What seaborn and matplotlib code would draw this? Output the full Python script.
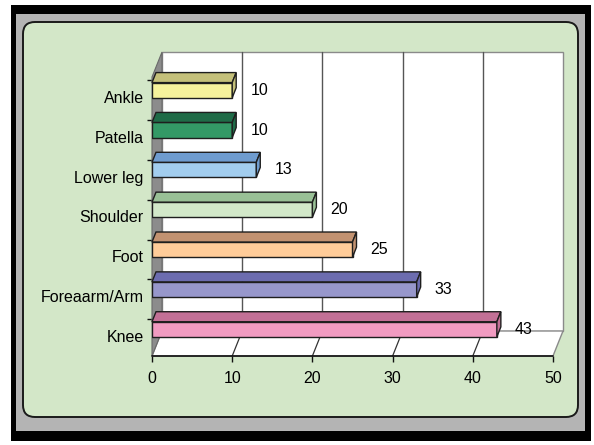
import numpy as np
import pandas as pd
import matplotlib
matplotlib.use("Agg")
import matplotlib.pyplot as plt
from matplotlib.patches import Polygon, Rectangle, FancyBboxPatch
import seaborn as sns

# Injury sites and counts
categories = ["Ankle", "Patella", "Lower leg", "Shoulder", "Foot", "Foreaarm/Arm", "Knee"]
counts = [10, 10, 13, 20, 25, 33, 43]
x_ticks = [0, 10, 20, 30, 40, 50]

front_colors = ["#F6F29C", "#339966", "#A2CDEE", "#D2E8C9", "#FFCC99", "#9797CB", "#F19BC1"]
top_colors = ["#C4C07A", "#1F6B47", "#6F9CCF", "#99C096", "#C29271", "#6C6CAF", "#C27096"]

sns.set_theme(style="white")
plt.rcParams["font.family"] = ["Liberation Sans", "DejaVu Sans"]
plt.rcParams["hatch.linewidth"] = 1.0

W, H, DPI = 594, 445, 100
fig = plt.figure(figsize=(W / DPI, H / DPI), dpi=DPI, facecolor="white")

# Decorative frame drawn in pixel coordinates
bg = fig.add_axes([0, 0, 1, 1], zorder=0)
bg.set_xlim(0, W)
bg.set_ylim(H, 0)
bg.axis("off")
bg.add_patch(Rectangle((11, 5), 580, 436, facecolor="black", edgecolor="none"))
bg.add_patch(Rectangle((16, 14), 569, 417, facecolor="#b4b4b4", edgecolor="none"))
bg.add_patch(FancyBboxPatch((23, 22), 555, 395, boxstyle="round,pad=0,rounding_size=12",
                            facecolor="#D3E7C8", edgecolor="#1a1a1a", linewidth=1.4))

# Plot area (front plane of the 3-D box)
L, R, T, B = 152, 553, 77, 356
ax = fig.add_axes([L / W, 1 - B / H, (R - L) / W, (B - T) / H], zorder=2)
ax.set_facecolor("none")

df = pd.DataFrame({"site": categories, "count": counts})
bar_w = 0.38
sns.barplot(data=df, y="site", x="count", hue="site", order=categories,
            palette=front_colors, saturation=1, width=bar_w, edgecolor="#1e1e1e",
            linewidth=1.0, legend=False, ax=ax, zorder=5)

shift = 0.17
ax.set_xlim(0, 50)
ax.set_ylim(6.5 + shift, -0.5 + shift)
y_lo, y_hi = ax.get_ylim()  # bottom, top in data

# pixel -> data conversions
sx = 50 / (R - L)
sy = (y_lo - y_hi) / (B - T)

def off(dx_px, dy_px):
    """Offset in data units for a move of dx_px right and dy_px up."""
    return dx_px * sx, -dy_px * sy

Dx, Dy = off(10, 25)   # depth of the walls
bx, by = off(4, 10)    # depth of each bar

# back wall
ax.add_patch(Polygon([(Dx, y_hi + Dy), (50 + Dx, y_hi + Dy), (50 + Dx, y_lo + Dy), (Dx, y_lo + Dy)],
                     closed=True, facecolor="white", edgecolor="#8a8a8a", linewidth=1.0,
                     clip_on=False, zorder=1))
for xv in x_ticks[1:-1]:
    ax.plot([xv + Dx, xv + Dx], [y_hi + Dy, y_lo + Dy], color="#555555", lw=1.0,
            clip_on=False, zorder=1.5)
# floor
ax.add_patch(Polygon([(0, y_lo), (50, y_lo), (50 + Dx, y_lo + Dy), (Dx, y_lo + Dy)],
                     closed=True, facecolor="white", edgecolor="#8a8a8a", linewidth=1.0,
                     clip_on=False, zorder=2))
for xv in x_ticks[1:-1]:
    ax.plot([xv, xv + Dx], [y_lo, y_lo + Dy], color="#333333", lw=0.9,
            clip_on=False, zorder=2.5)
# left wall
ax.add_patch(Polygon([(0, y_hi), (Dx, y_hi + Dy), (Dx, y_lo + Dy), (0, y_lo)],
                     closed=True, facecolor="#8c8c8c", edgecolor="#6a6a6a", linewidth=0.8,
                     clip_on=False, zorder=3))
# front axis line
ax.plot([0, 50], [y_lo, y_lo], color="#111111", lw=1.2, clip_on=False, zorder=4)

# 3-D faces of each bar
for i, (v, tc) in enumerate(zip(counts, top_colors)):
    yt = i - bar_w / 2
    yb = i + bar_w / 2
    ax.add_patch(Polygon([(0, yt), (v, yt), (v + bx, yt + by), (bx, yt + by)], closed=True,
                         facecolor=tc, edgecolor="#1e1e1e", linewidth=1.0, zorder=6,
                         clip_on=False))
    ax.add_patch(Polygon([(v, yt), (v, yb), (v + bx, yb + by), (v + bx, yt + by)], closed=True,
                         facecolor=tc, edgecolor="#1e1e1e", linewidth=1.0, zorder=6,
                         clip_on=False))
    lx, _ = off(27, 0)
    ax.text(v + lx, i, f"{v}", ha="center", va="center", fontsize=11.5,
            color="black", zorder=7)

for s in ax.spines.values():
    s.set_visible(False)

ax.set_xticks(x_ticks)
ax.set_xticklabels([str(t) for t in x_ticks], fontsize=11.5, color="black")
ax.set_yticks(np.arange(len(categories)) + shift)
ax.set_yticklabels(categories, fontsize=11.5, color="black")
ax.set_yticks(np.arange(len(categories)) - 0.25, minor=True)
ax.tick_params(axis="x", which="major", length=4, width=1, color="#111111",
               direction="out", pad=7, bottom=True)
ax.tick_params(axis="y", which="major", length=0, pad=6)
ax.tick_params(axis="y", which="minor", length=3.5, width=1, color="#111111",
               direction="out", left=True)
ax.set_xlabel("")
ax.set_ylabel("")
ax.grid(False)

fig.savefig("out.png", dpi=DPI, facecolor="white")
